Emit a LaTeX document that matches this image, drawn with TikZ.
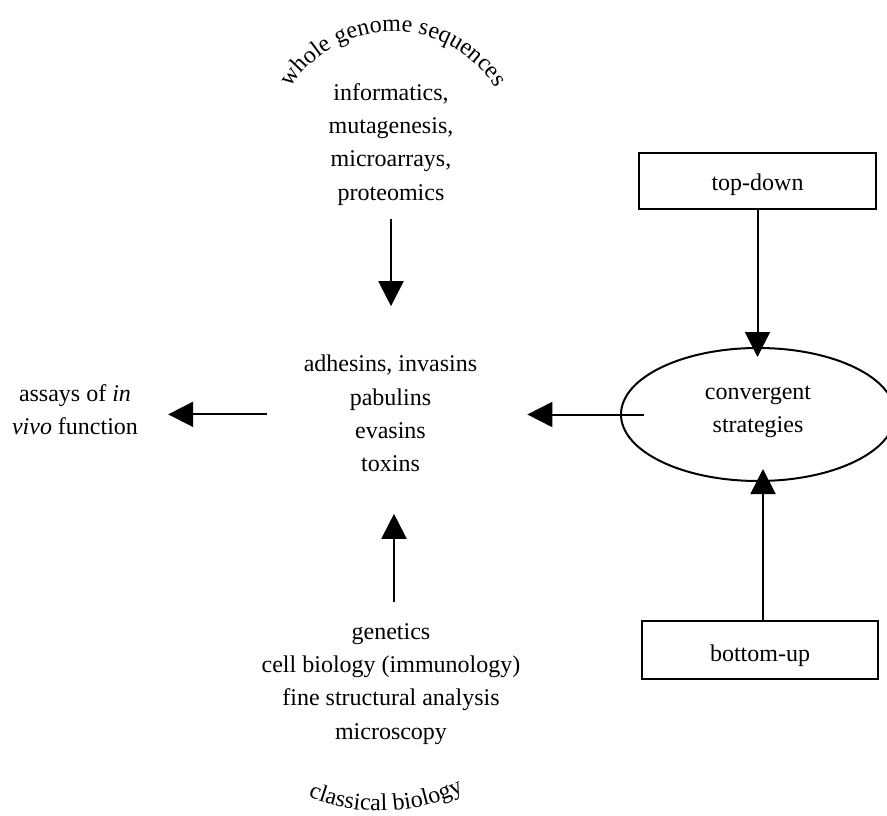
\documentclass[tikz,border=0pt]{standalone}
\usepackage{fontspec}
\setmainfont{Liberation Serif}
\usetikzlibrary{arrows.meta,shapes.geometric,calc,decorations.text}
\newcommand\arcfont{\fontsize{24}{24}\selectfont}
\begin{document}
\begin{tikzpicture}[x=1pt,y=-1pt,
  txt/.style={font=\fontsize{24}{33.3}\selectfont, align=center, inner sep=0pt,
    execute at begin node=\strut, execute at end node=\strut},
  boxnode/.style={draw, line width=2.2pt, font=\fontsize{24}{33.3}\selectfont,
    inner sep=0pt, text depth=2pt},
  ovalnode/.style={draw, ellipse, line width=2pt, font=\fontsize{24}{33.3}\selectfont,
    align=center, inner sep=0pt, minimum width=274pt, minimum height=133pt,
    execute at begin node=\strut, execute at end node=\strut},
  arr/.style={line width=2pt, -{Triangle[length=25pt,width=25pt]}},
  arctext/.style={decorate, decoration={text along path, text align=center, text={#1}}}
]
\useasboundingbox (0,0) rectangle (887,816);
\clip (0,0) rectangle (887,816);

% curved titles
\path[arctext={|\arcfont|whole genome sequences}]
  (290.5,88.35) arc[start angle=148, end angle=32, radius=121pt];
\path[arctext={|\arcfont|classical biology}]
  (306.9,796.1) arc[start angle=247, end angle=297, radius=187pt];

% text blocks
\node[txt] (top) at (391,146.85) {informatics,\\mutagenesis,\\microarrays,\\proteomics};
\node[txt] (mid) at (390.5,418.35) {adhesins, invasins\\pabulins\\evasins\\toxins};
\node[txt] (bot) at (391,686.35) {genetics\\cell biology (immunology)\\fine structural analysis\\microscopy};
\node[txt] (assays) at (75,414.35) {assays of \textit{in}\\\textit{vivo} function};

% right column
\node[boxnode, minimum width=237pt, minimum height=56pt, text height=21pt] (td) at (757.5,181) {top-down};
\node[boxnode, minimum width=236pt, minimum height=58pt, text height=25.4pt] (bu) at (760,650) {bottom-up};
\node[ovalnode] (conv) at (758,414.5) {convergent\\strategies};

% connectors
\draw[arr, shorten <=8.5pt, shorten >=48.7pt] (top.south) -- (top.south |- mid.north);
\draw[arr, shorten <=21.75pt, shorten >=32pt] ($(bot.north)+(3,0)$) -- ($(bot.north |- mid.south)+(3,0)$);
\draw[arr, shorten >=50pt] ($(conv.west)+(24,0)$) -- (conv.west -| mid.east);
\draw[arr, shorten <=37pt, shorten >=30pt] (assays.east -| mid.west) -- (assays.east);
\draw[arr, shorten <=-2pt, shorten >=-10pt] (td.south) -- (td.south |- conv.north);
\draw[arr, shorten <=-1pt, shorten >=-13pt] ($(bu.north)+(3,0)$) -- ($(bu.north |- conv.south)+(3,0)$);
\end{tikzpicture}
\end{document}
